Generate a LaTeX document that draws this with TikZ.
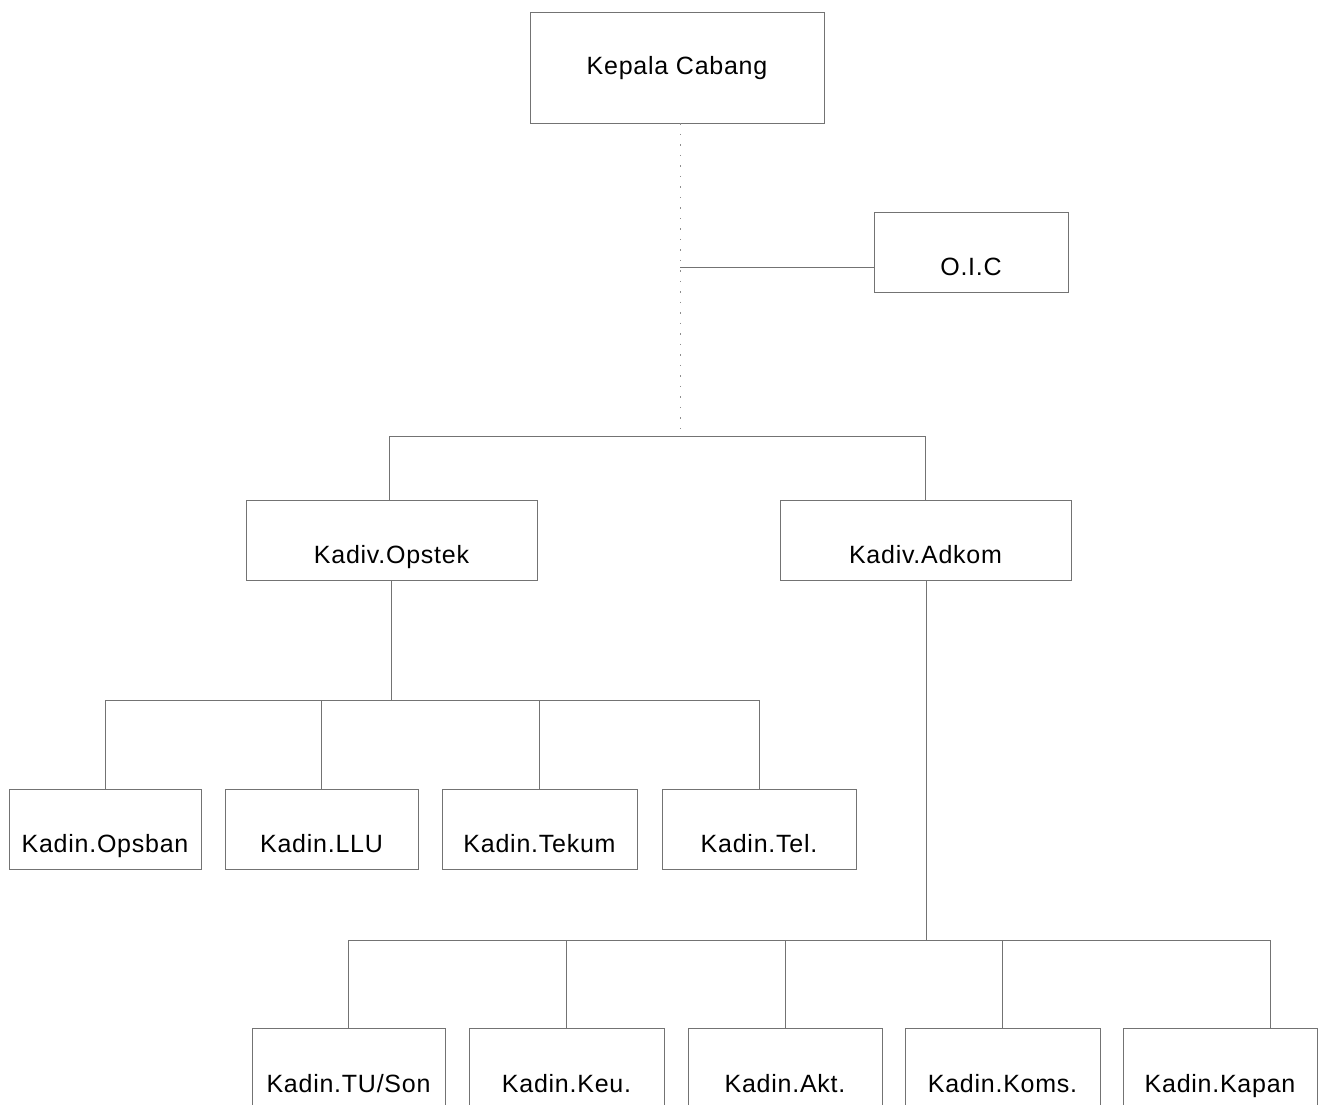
\documentclass[tikz,border=0pt]{standalone}
\usepackage{fontspec}
\newfontfamily\orgfont{Liberation Sans}[LetterSpace=3]
\begin{document}
\begin{tikzpicture}[x=1pt,y=-1pt,
  lin/.style={draw=black!55, line width=0.8pt},
  faint/.style={draw=black!45, line width=0.8pt, dash pattern=on 1.5pt off 9pt},
  orgbox/.style n args={3}{lin, inner sep=0pt, text depth=0pt,
     minimum width=#1, minimum height=#2, text height=#3,
     font=\orgfont\fontsize{25}{30}\selectfont}]
\useasboundingbox (0,0) rectangle (1322,1104);
\clip (0,0) rectangle (1322,1104);
\fill[white] (0,0) rectangle (1322,1104);

% boxes
\node[orgbox={294pt}{111pt}{13pt}] (kc) at (677,67.5) {Kepala Cabang};
\node[orgbox={194pt}{80pt}{46pt}] (oic) at (971,252) {O.I.C};
\node[orgbox={291pt}{80pt}{46pt}] (opstek) at (391.5,540) {Kadiv.Opstek};
\node[orgbox={291pt}{80pt}{46pt}] (adkom) at (925.5,540) {Kadiv.Adkom};

\node[orgbox={192pt}{80pt}{46pt}] (opsban) at (105,829) {Kadin.Opsban};
\node[orgbox={193pt}{80pt}{46pt}] (llu) at (321.5,829) {Kadin.LLU};
\node[orgbox={195pt}{80pt}{46pt}] (tekum) at (539.5,829) {Kadin.Tekum};
\node[orgbox={194pt}{80pt}{46pt}] (tel) at (759,829) {Kadin.Tel.};

\node[orgbox={193pt}{80pt}{48pt}] (tuson) at (348.5,1068) {Kadin.TU/Son};
\node[orgbox={195pt}{80pt}{48pt}] (keu) at (566.5,1068) {Kadin.Keu.};
\node[orgbox={194pt}{80pt}{48pt}] (akt) at (785,1068) {Kadin.Akt.};
\node[orgbox={195pt}{80pt}{48pt}] (koms) at (1002.5,1068) {Kadin.Koms.};
\node[orgbox={194pt}{80pt}{48pt}] (kapan) at (1220,1068) {Kadin.Kapan};

% junctions
\coordinate (j1) at (680,436);
\coordinate (oj) at (680,267);
\coordinate (j2) at (391,700);
\coordinate (j3) at (926,940);
\coordinate (kpj) at (1270,1028);

% Kepala Cabang -> bar
\draw[faint] (kc.south -| j1) -- (j1);
\draw[lin] (oj) -- (oj -| oic.west);
\draw[lin] (opstek.north -| 389,0) -- (j1 -| 389,0) -- (j1 -| adkom.north) -- (adkom.north);

% Opstek -> row 1
\draw[lin] (opstek.south -| j2) -- (j2);
\draw[lin] (opsban.north) -- (opsban.north |- j2) -- (tel.north |- j2) -- (tel.north);
\draw[lin] (llu.north) -- (llu.north |- j2);
\draw[lin] (tekum.north) -- (tekum.north |- j2);

% Adkom -> row 2
\draw[lin] (adkom.south -| j3) -- (j3);
\draw[lin] (tuson.north) -- (tuson.north |- j3) -- (kpj |- j3) -- (kpj);
\draw[lin] (keu.north) -- (keu.north |- j3);
\draw[lin] (akt.north) -- (akt.north |- j3);
\draw[lin] (koms.north) -- (koms.north |- j3);
\end{tikzpicture}
\end{document}
